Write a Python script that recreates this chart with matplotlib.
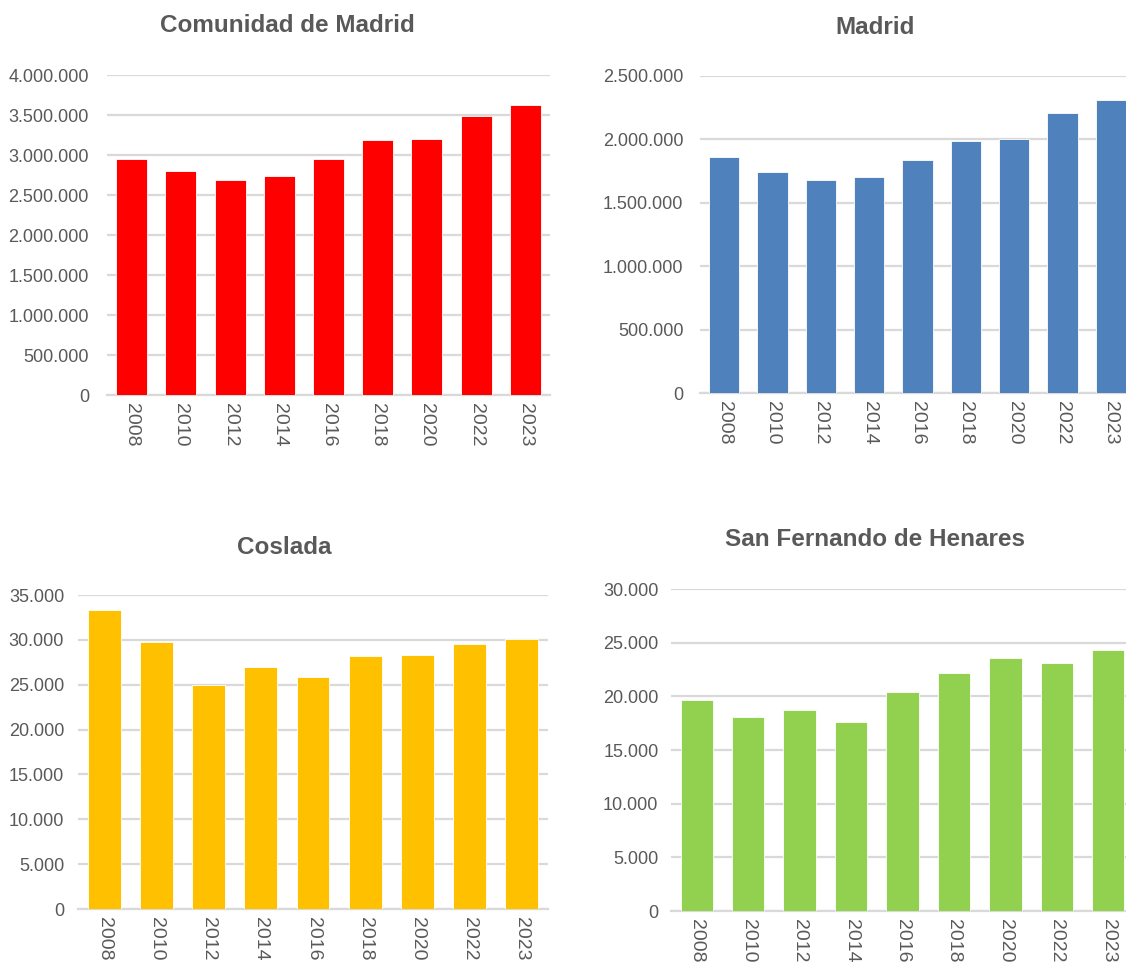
import matplotlib
matplotlib.use("Agg")
import matplotlib.pyplot as plt
from matplotlib import font_manager
from matplotlib.ticker import FuncFormatter, MultipleLocator

years = ["2008", "2010", "2012", "2014", "2016", "2018", "2020", "2022", "2023"]
comunidad = [2946000, 2800000, 2688000, 2742000, 2946000, 3184000, 3200000, 3488000, 3625000]
madrid = [1858000, 1742000, 1676000, 1702000, 1836000, 1991000, 2002000, 2211000, 2314000]
coslada = [33280, 29750, 24990, 26930, 25850, 28190, 28260, 29490, 30120]
san_fernando = [19670, 18050, 18770, 17610, 20450, 22220, 23590, 23060, 24340]

titles = ["Comunidad de Madrid", "Madrid", "Coslada", "San Fernando de Henares"]

try:
    font_manager.findfont("Liberation Sans Narrow", fallback_to_default=False)
    FAM = ["Liberation Sans Narrow", "DejaVu Sans"]
    narrow = True
except Exception:
    FAM = ["Liberation Sans", "DejaVu Sans"]
    narrow = False

plt.rcParams["font.family"] = FAM
TXT = "#595959"
GRID = "#D9D9D9"
ytick_fs = 14 if narrow else 13
xtick_fs = 15 if narrow else 14
title_fs = 21.5 if narrow else 17.5

W, H = 1126, 963
fig = plt.figure(figsize=(W / 100, H / 100), dpi=100)

def px_axes(l, r, t, b):
    return [l / W, 1 - b / H, (r - l) / W, (b - t) / H]

panels = [
    (comunidad, "#FF0000", px_axes(107, 550, 75, 395), 4000000, 500000, (287, 25), 13),
    (madrid, "#4F81BD", px_axes(700, 1135, 76, 393), 2500000, 500000, (875, 27), 12),
    (coslada, "#FFC000", px_axes(78, 548, 595, 909), 35000, 5000, (284, 547), 10),
    (san_fernando, "#92D050", px_axes(671, 1134, 589, 911), 30000, 5000, (875, 540), 9),
]

fmt = FuncFormatter(lambda v, p: f"{int(round(v)):,}".replace(",", "."))

for (vals, color, pos, ymax, step, tpos, pad), title in zip(panels, titles):
    ax = fig.add_axes(pos)
    x = list(range(len(years)))
    ax.bar(x, vals, width=0.63, color=color, edgecolor="white", linewidth=0.6, zorder=3)
    ax.set_xlim(-0.5, len(years) - 0.5)
    ax.set_ylim(0, ymax)
    ax.yaxis.set_major_locator(MultipleLocator(step))
    ax.yaxis.set_major_formatter(fmt)
    ax.grid(axis="y", color=GRID, linewidth=1.6, zorder=0)
    ax.set_axisbelow(True)
    for s in ["top", "right", "left"]:
        ax.spines[s].set_visible(False)
    ax.spines["bottom"].set_color(GRID)
    ax.spines["bottom"].set_linewidth(1.6)
    ax.set_xticks(x)
    ax.set_xticklabels(years, rotation=-90, fontsize=xtick_fs, color=TXT)
    ax.tick_params(axis="x", length=0, pad=6)
    ax.tick_params(axis="y", length=0, pad=pad, labelsize=ytick_fs, labelcolor=TXT)
    ax.set_facecolor("none")
    fig.text(tpos[0] / W, 1 - tpos[1] / H, title, ha="center", va="center",
             fontsize=title_fs, fontweight="bold", color=TXT)

fig.savefig("out.png", dpi=100, facecolor="white")
